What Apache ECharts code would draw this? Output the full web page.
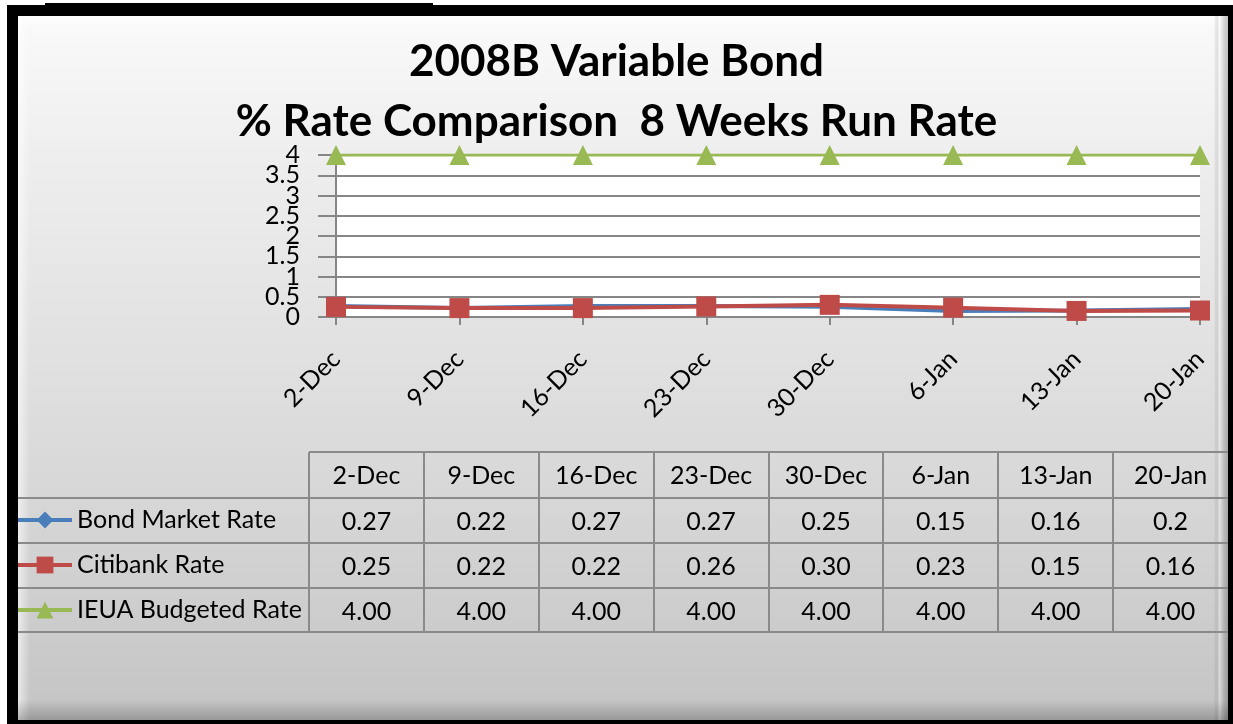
<!DOCTYPE html>
<html>
<head>
<meta charset="utf-8">
<script src="https://cdn.jsdelivr.net/npm/echarts@6/dist/echarts.min.js"></script>
<style>
html,body{margin:0;padding:0;background:#fff;}
#c{width:1233px;height:724px;}
</style>
</head>
<body>
<div id="c"></div>
<script>
var categories = ['2-Dec','9-Dec','16-Dec','23-Dec','30-Dec','6-Jan','13-Jan','20-Jan'];
var bondMarketRate = [0.27,0.22,0.27,0.27,0.25,0.15,0.16,0.2];
var citibankRate = [0.25,0.22,0.22,0.26,0.30,0.23,0.15,0.16];
var ieuaBudgetedRate = [4.00,4.00,4.00,4.00,4.00,4.00,4.00,4.00];
var seriesNames = ['Bond Market Rate','Citibank Rate','IEUA Budgeted Rate'];
var yTicks = [0,0.5,1,1.5,2,2.5,3,3.5,4];
var titleLines = ['2008B Variable Bond','% Rate Comparison  8 Weeks Run Rate'];

var FONT = 'Lato, "Open Sans", sans-serif';
var chart = echarts.init(document.getElementById('c'), null, {renderer:'canvas'});

// table geometry
var tblLeft = 309, tblRight = 1228, colW = (tblRight - tblLeft) / categories.length;
var headTop = 452, rowH = 45, rowTops = [498, 543, 588], tblBottom = 632;
var panelL = 18, panelT = 16, panelR = 1228, panelB = 720;
var TFS = 25;

var graphics = [];
// black frame
graphics.push({type:'rect', z:-10, shape:{x:7,y:5,width:1226,height:719}, style:{fill:'#000'}});
graphics.push({type:'rect', z:-10, shape:{x:45,y:3,width:388,height:4}, style:{fill:'#000'}});
// panel with gradient
graphics.push({type:'rect', z:-9, shape:{x:panelL,y:panelT,width:panelR-panelL,height:panelB-panelT},
  style:{fill:new echarts.graphic.LinearGradient(0,0,0,1,[
    {offset:0,color:'#fafafa'},{offset:0.2,color:'#eeeeee'},{offset:0.5,color:'#e0e0e0'},
    {offset:0.7,color:'#d6d6d6'},{offset:0.9,color:'#cacaca'},{offset:1,color:'#c4c4c4'}])}});
// bevels
graphics.push({type:'rect', z:-8, shape:{x:panelL,y:panelT,width:panelR-panelL,height:12},
  style:{fill:new echarts.graphic.LinearGradient(0,0,0,1,[{offset:0,color:'rgba(255,255,255,0.9)'},{offset:1,color:'rgba(255,255,255,0)'}])}});
graphics.push({type:'rect', z:-8, shape:{x:panelL,y:panelT,width:12,height:panelB-panelT},
  style:{fill:new echarts.graphic.LinearGradient(0,0,1,0,[{offset:0,color:'rgba(255,255,255,0.6)'},{offset:1,color:'rgba(255,255,255,0)'}])}});
graphics.push({type:'rect', z:-8, shape:{x:panelR-14,y:panelT,width:14,height:panelB-panelT},
  style:{fill:new echarts.graphic.LinearGradient(0,0,1,0,[{offset:0,color:'rgba(0,0,0,0)'},{offset:0.4,color:'rgba(255,255,255,0.35)'},{offset:1,color:'rgba(0,0,0,0.22)'}])}});
graphics.push({type:'rect', z:-8, shape:{x:panelL,y:panelB-20,width:panelR-panelL,height:20},
  style:{fill:new echarts.graphic.LinearGradient(0,0,0,1,[{offset:0,color:'rgba(0,0,0,0)'},{offset:1,color:'rgba(0,0,0,0.22)'}])}});

// table lines
var lineStyle = {stroke:'#8a8a8a', lineWidth:2};
graphics.push({type:'line', z:5, shape:{x1:tblLeft,y1:headTop,x2:tblRight,y2:headTop}, style:lineStyle});
rowTops.concat([tblBottom]).forEach(function(y){
  graphics.push({type:'line', z:5, shape:{x1:panelL,y1:y,x2:tblRight,y2:y}, style:lineStyle});
});
for (var i = 0; i < categories.length; i++) {
  var x = Math.round(tblLeft + i*colW);
  graphics.push({type:'line', z:5, shape:{x1:x,y1:headTop,x2:x,y2:tblBottom}, style:lineStyle});
}
var rowsText = [
  bondMarketRate.map(function(v){return String(v);}),
  citibankRate.map(function(v){return v.toFixed(2);}),
  ieuaBudgetedRate.map(function(v){return v.toFixed(2);})
];
categories.forEach(function(c, i){
  var cx = tblLeft + (i+0.5)*colW;
  graphics.push({type:'text', z:6, x:cx, y:headTop + rowH/2 + 1,
    style:{text:c, font:TFS+'px '+FONT, fill:'#000', align:'center', verticalAlign:'middle'}});
  rowsText.forEach(function(r, j){
    graphics.push({type:'text', z:6, x:cx, y:rowTops[j] + rowH/2 + 1,
      style:{text:r[i], font:TFS+'px '+FONT, fill:'#000', align:'center', verticalAlign:'middle'}});
  });
});

var colors = ['#4a7ebb','#be4b48','#98b954'];
var yMin = yTicks[0], yMax = yTicks[yTicks.length-1], yStep = yTicks[1]-yTicks[0];
function isWhole(v){ return Math.abs(v - Math.round(v)) < 1e-9; }

chart.setOption({
  animation:false,
  color:colors,
  textStyle:{fontFamily:FONT},
  title:{
    text:titleLines.join('\n'), left:'center', top:27,
    textStyle:{fontSize:44, fontWeight:'bold', color:'#000', lineHeight:60, fontFamily:FONT}
  },
  legend:{
    orient:'vertical', left:16, top:506, padding:0, itemGap:17,
    itemWidth:54, itemHeight:21, data:seriesNames,
    lineStyle:{width:4},
    textStyle:{fontSize:TFS, lineHeight:28, color:'#000', fontFamily:FONT}
  },
  grid:{left:336, right:33, top:155, height:162, show:true, backgroundColor:'#fff', borderWidth:0},
  xAxis:{
    type:'category', data:categories, boundaryGap:false,
    axisLine:{show:true, lineStyle:{color:'#868686', width:2}},
    axisTick:{show:true, alignWithLabel:true, length:8, lineStyle:{color:'#868686', width:2}},
    axisLabel:{rotate:45, margin:38, fontSize:TFS, color:'#000', fontFamily:FONT}
  },
  yAxis:[{
    type:'value', min:yMin, max:yMax, interval:yStep, position:'left',
    axisLine:{show:true, lineStyle:{color:'#868686', width:2}},
    axisTick:{show:true, length:18, lineStyle:{color:'#868686', width:2}},
    splitLine:{show:true, lineStyle:{color:'#868686', width:2}},
    axisLabel:{margin:36, fontSize:TFS, color:'#000', fontFamily:FONT,
      showMinLabel:true, showMaxLabel:true, hideOverlap:false,
      formatter:function(v){ return isWhole(v) ? String(v) : ''; }}
  },{
    type:'value', min:yMin, max:yMax, interval:yStep, position:'left', offset:0,
    axisLine:{show:false}, axisTick:{show:false}, splitLine:{show:false},
    axisLabel:{margin:36, fontSize:TFS, color:'#000', fontFamily:FONT,
      showMinLabel:false, showMaxLabel:false, hideOverlap:false,
      formatter:function(v){ return isWhole(v) ? '' : String(v); }}
  }],
  series:[
    {name:seriesNames[0], type:'line', data:bondMarketRate, symbol:'diamond', symbolSize:13,
     lineStyle:{width:4, color:colors[0]}, itemStyle:{color:colors[0]}},
    {name:seriesNames[1], type:'line', data:citibankRate, symbol:'rect', symbolSize:20,
     lineStyle:{width:4, color:colors[1]}, itemStyle:{color:colors[1]}},
    {name:seriesNames[2], type:'line', data:ieuaBudgetedRate, symbol:'triangle', symbolSize:[20,20],
     lineStyle:{width:3, color:colors[2]}, itemStyle:{color:colors[2]}}
  ],
  graphic:graphics
});
</script>
</body>
</html>
